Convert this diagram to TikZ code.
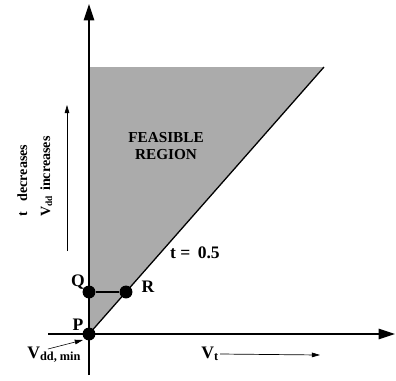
\documentclass[tikz,border=0pt]{standalone}
\usepackage{fontspec}
\setmainfont{Liberation Serif}
\usetikzlibrary{arrows.meta, positioning}
\tikzset{
  eje/.style={line width=1.1pt, -{Triangle[length=14pt, width=9pt]}},
  flechita/.style={line width=0.6pt, -{Triangle[length=7pt, width=4pt]}},
  punto/.style={circle, fill=black, minimum size=11pt, inner sep=0pt},
  etiqueta/.style={font=\bfseries\fontsize{15}{17}\selectfont, inner sep=1pt},
  girada/.style={font=\bfseries\fontsize{12}{14}\selectfont, inner sep=1pt, rotate=90, anchor=base west},
  region/.style={fill=black!33, draw=none},
}
\begin{document}
\begin{tikzpicture}[x=0.03cm, y=-0.03cm]
    \useasboundingbox (0,0) rectangle (396,380);
    % zona factible
    \coordinate (origen) at (89,334);
    \coordinate (esqSup) at (89,67);
    \coordinate (esqDer) at (324,67);
    \fill[region] (origen) -- (esqSup) -- (esqDer) -- cycle;
    \draw[line width=1.1pt] (origen) -- (esqDer);
    % ejes
    \coordinate (ejeYini) at (89,375);
    \coordinate (ejeYfin) at (89,4);
    \coordinate (ejeXini) at (48,334);
    \coordinate (ejeXfin) at (395,334);
    \draw[eje] (ejeYini) -- (ejeYfin);
    \draw[eje] (ejeXini) -- (ejeXfin);
    % puntos
    \node[punto] (P) at (origen) {};
    \node[punto] (Q) at (89,292) {};
    \node[punto] (R) at (126,292) {};
    \draw[line width=1.1pt] (Q) -- (R);
    \node[etiqueta] (etQ) at (78,282) {Q};
    \node[etiqueta] (etR) at (148,287) {R};
    \node[etiqueta] (etP) at (78,325) {P};
    \node[etiqueta] (etT) at (195,253) {t =\, 0.5};
    \node[align=center, font=\bfseries\fontsize{13}{15}\selectfont] (factible) at (166,146) {FEASIBLE\\REGION};
    % etiqueta vdd min
    \node[etiqueta, anchor=base west] (vddmin) at (26,358) {V\textsubscript{dd, min}};
    \coordinate (vddIni) at (48,349);
    \draw[flechita, line width=0.5pt] (vddIni) -- (83,340);
    % flecha vertical de texto
    \coordinate (flechaVini) at (67,251);
    \coordinate (flechaVfin) at (67,105);
    \draw[flechita] (flechaVini) -- (flechaVfin);
    \node[girada] (vdd) at (50,218) {V\textsubscript{dd}\hspace{4pt}increases};
    \node[girada] (tdec) at (27,218) {t\hspace{9pt}decreases};
    % flecha horizontal de texto
    \node[etiqueta] (vt) at (210,354) {V\textsubscript{t}};
    \coordinate (flechaHfin) at (320,355);
    \draw[flechita] (vt.east) -- (flechaHfin);
\end{tikzpicture}
\end{document}
